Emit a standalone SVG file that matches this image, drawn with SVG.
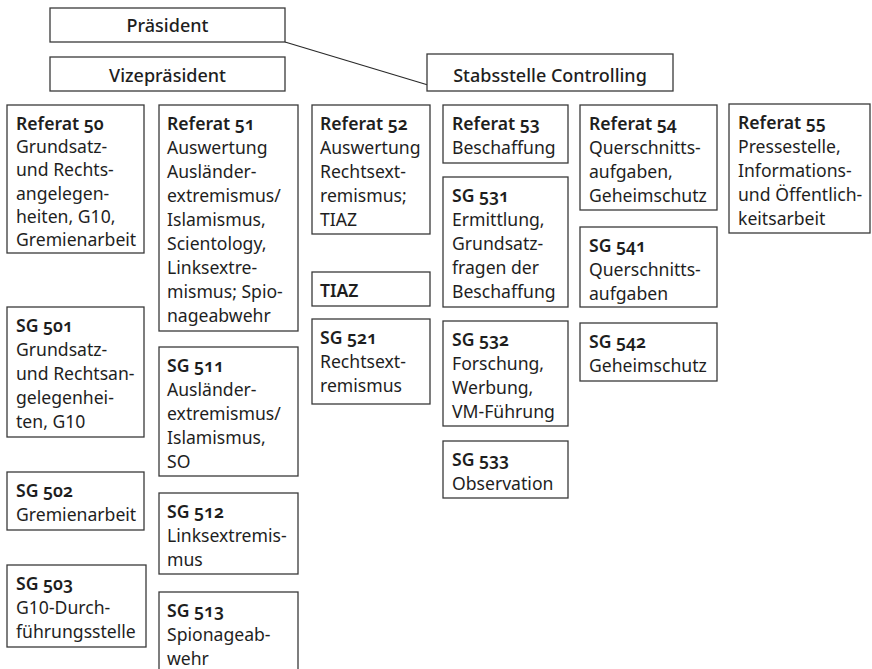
<svg xmlns="http://www.w3.org/2000/svg" width="872" height="669" viewBox="0 0 872 669">
<style>
rect{fill:#fff;stroke:#3a3a3a;stroke-width:1.3}
text{font-family:"Noto Sans","Open Sans","DejaVu Sans",sans-serif;font-size:17.6px;fill:#1e1e1e}
.h{font-weight:600;font-variant-numeric:oldstyle-nums;font-feature-settings:"onum"}
.t{font-weight:500;text-anchor:middle;font-size:18px}
.c{stroke:#2a2a2a;stroke-width:1.3;fill:none}
</style>
<g id="connectors"><path class="c" d="M285 42 L428 85"/></g>
<g id="praesident"><rect x="50" y="8" width="235" height="34"/><text class="t" x="167.5" y="32">Präsident</text></g>
<g id="vizepraesident"><rect x="50" y="57" width="235" height="34"/><text class="t" x="167.5" y="82">Vizepräsident</text></g>
<g id="stabsstelle"><rect x="427" y="54" width="246" height="37"/><text class="t" x="550" y="82">Stabsstelle Controlling</text></g>

<g id="ref50"><rect x="7" y="105" width="137" height="148"/>
<text x="16" y="130"><tspan class="h">Referat 50</tspan><tspan x="16" dy="23.2">Grundsatz-</tspan><tspan x="16" dy="23.2">und Rechts-</tspan><tspan x="16" dy="23.2">angelegen-</tspan><tspan x="16" dy="23.2">heiten, G10,</tspan><tspan x="16" dy="23.2">Gremienarbeit</tspan></text></g>

<g id="ref51"><rect x="159" y="105" width="139" height="226"/>
<text x="167" y="130"><tspan class="h">Referat 51</tspan><tspan x="167" dy="24">Auswertung</tspan><tspan x="167" dy="24">Ausländer-</tspan><tspan x="167" dy="24">extremismus/</tspan><tspan x="167" dy="24">Islamismus,</tspan><tspan x="167" dy="24">Scientology,</tspan><tspan x="167" dy="24">Linksextre-</tspan><tspan x="167" dy="24">mismus; Spio-</tspan><tspan x="167" dy="24">nageabwehr</tspan></text></g>

<g id="ref52"><rect x="312" y="105" width="118" height="129"/>
<text x="320" y="130"><tspan class="h">Referat 52</tspan><tspan x="320" dy="24">Auswertung</tspan><tspan x="320" dy="24">Rechtsext-</tspan><tspan x="320" dy="24">remismus;</tspan><tspan x="320" dy="24">TIAZ</tspan></text></g>

<g id="ref53"><rect x="443" y="105" width="125" height="58"/>
<text x="452" y="130"><tspan class="h">Referat 53</tspan><tspan x="452" dy="24">Beschaffung</tspan></text></g>

<g id="ref54"><rect x="580" y="105" width="137" height="105"/>
<text x="589" y="130"><tspan class="h">Referat 54</tspan><tspan x="589" dy="24">Querschnitts-</tspan><tspan x="589" dy="24">aufgaben,</tspan><tspan x="589" dy="24">Geheimschutz</tspan></text></g>

<g id="ref55"><rect x="729" y="104" width="141" height="129"/>
<text x="738" y="129"><tspan class="h">Referat 55</tspan><tspan x="738" dy="24">Pressestelle,</tspan><tspan x="738" dy="24">Informations-</tspan><tspan x="738" dy="24">und Öffentlich-</tspan><tspan x="738" dy="24">keitsarbeit</tspan></text></g>

<g id="sg501"><rect x="7" y="307" width="137" height="130"/>
<text x="16" y="332"><tspan class="h">SG 501</tspan><tspan x="16" dy="24">Grundsatz-</tspan><tspan x="16" dy="24">und Rechtsan-</tspan><tspan x="16" dy="24">gelegenhei-</tspan><tspan x="16" dy="24">ten, G10</tspan></text></g>

<g id="sg502"><rect x="7" y="472" width="137" height="58"/>
<text x="16" y="497"><tspan class="h">SG 502</tspan><tspan x="16" dy="24">Gremienarbeit</tspan></text></g>

<g id="sg503"><rect x="7" y="565" width="139" height="82"/>
<text x="16" y="590"><tspan class="h">SG 503</tspan><tspan x="16" dy="24">G10-Durch-</tspan><tspan x="16" dy="24">führungsstelle</tspan></text></g>

<g id="sg511"><rect x="159" y="347" width="139" height="129"/>
<text x="167" y="372"><tspan class="h">SG 511</tspan><tspan x="167" dy="24">Ausländer-</tspan><tspan x="167" dy="24">extremismus/</tspan><tspan x="167" dy="24">Islamismus,</tspan><tspan x="167" dy="24">SO</tspan></text></g>

<g id="sg512"><rect x="159" y="493" width="139" height="81"/>
<text x="167" y="518"><tspan class="h">SG 512</tspan><tspan x="167" dy="24">Linksextremis-</tspan><tspan x="167" dy="24">mus</tspan></text></g>

<g id="sg513"><rect x="159" y="592" width="139" height="84"/>
<text x="167" y="617"><tspan class="h">SG 513</tspan><tspan x="167" dy="24">Spionageab-</tspan><tspan x="167" dy="24">wehr</tspan></text></g>

<g id="tiaz"><rect x="312" y="272" width="118" height="34"/>
<text x="320" y="297"><tspan class="h">TIAZ</tspan></text></g>

<g id="sg521"><rect x="312" y="319" width="118" height="85"/>
<text x="320" y="344"><tspan class="h">SG 521</tspan><tspan x="320" dy="24">Rechtsext-</tspan><tspan x="320" dy="24">remismus</tspan></text></g>

<g id="sg531"><rect x="443" y="177" width="125" height="130"/>
<text x="452" y="202"><tspan class="h">SG 531</tspan><tspan x="452" dy="24">Ermittlung,</tspan><tspan x="452" dy="24">Grundsatz-</tspan><tspan x="452" dy="24">fragen der</tspan><tspan x="452" dy="24">Beschaffung</tspan></text></g>

<g id="sg532"><rect x="443" y="321" width="125" height="105"/>
<text x="452" y="346"><tspan class="h">SG 532</tspan><tspan x="452" dy="24">Forschung,</tspan><tspan x="452" dy="24">Werbung,</tspan><tspan x="452" dy="24">VM-Führung</tspan></text></g>

<g id="sg533"><rect x="443" y="441" width="125" height="57"/>
<text x="452" y="466"><tspan class="h">SG 533</tspan><tspan x="452" dy="24">Observation</tspan></text></g>

<g id="sg541"><rect x="580" y="227" width="137" height="80"/>
<text x="589" y="252"><tspan class="h">SG 541</tspan><tspan x="589" dy="24">Querschnitts-</tspan><tspan x="589" dy="24">aufgaben</tspan></text></g>

<g id="sg542"><rect x="580" y="323" width="137" height="58"/>
<text x="589" y="348"><tspan class="h">SG 542</tspan><tspan x="589" dy="24">Geheimschutz</tspan></text></g>
</svg>
